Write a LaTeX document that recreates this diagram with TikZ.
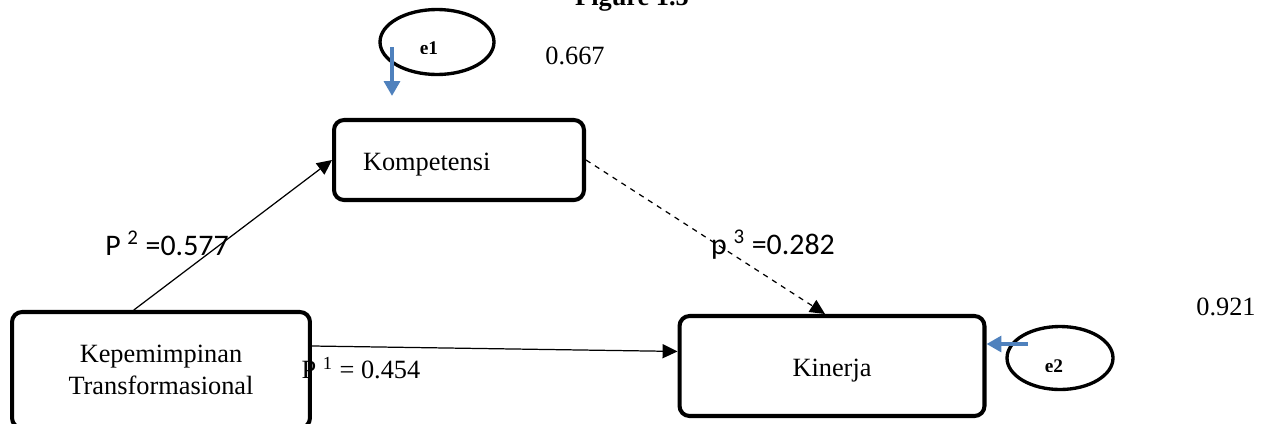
\documentclass[tikz,border=0pt]{standalone}
\usepackage{fontspec}
\setmainfont{Liberation Serif}
\newfontfamily\calibri{Carlito}
\usetikzlibrary{shapes,calc,positioning,arrows.meta}
\definecolor{errblue}{RGB}{79,129,189}

\begin{document}
\begin{tikzpicture}[x=0.02cm, y=-0.02cm,
  var/.style={draw, line width=2.3pt, rounded corners=0.2cm, align=center,
    font=\fontsize{15}{18}\selectfont},
  err/.style={draw, ellipse, line width=1.9pt, inner sep=0pt},
  link/.style={-{Triangle[length=8.5pt,width=8pt]}, line width=0.7pt},
  errlink/.style={errblue, line width=2.8pt, -{Triangle[length=8.5pt,width=9pt]}},
  coef/.style={font=\fontsize{15}{18}\selectfont},
  sanscoef/.style={font=\calibri\fontsize{17}{20}\selectfont},
  errlabel/.style={font=\bfseries\fontsize{11}{13}\selectfont, anchor=base}]
    \useasboundingbox (0,0) rectangle (1266,423);
    \clip (0,0) rectangle (1266,423);
    \node (title) [anchor=base, font=\bfseries\fontsize{15}{18}\selectfont] at (632,5) {Figure 1.5};
    \node (Kompetensi) [var, minimum width=5cm, minimum height=1.6cm, text width=3.84cm,
      inner xsep=0.58cm, align=left] at (459,160) {\raisebox{-0.1cm}[\height][\depth]{Kompetensi}};
    \node (Lead) [var, minimum width=5.96cm, minimum height=2.32cm] at (161,370)
      {Kepemimpinan\\Transformasional};
    \node (Kinerja) [var, minimum width=6.1cm, minimum height=2cm] at (832,366)
      {\raisebox{-0.1cm}[\height][\depth]{Kinerja}};
    \node (e1) [err, minimum width=2.28cm, minimum height=1.3cm] at (437,42) {};
    \node (e2) [err, minimum width=2.12cm, minimum height=1.26cm] at (1060,358) {};
    \begin{scope}
      \clip (380,10) rectangle (494,53);
      \node (e1label) [errlabel] at (429,54) {e1};
    \end{scope}
    \begin{scope}
      \clip (1007,327) rectangle (1113,371);
      \node (e2label) [errlabel] at (1054,372) {e2};
    \end{scope}
    \coordinate (e1src) at (392,47);
    \coordinate (e1dst) at (392,96);
    \coordinate (e2src) at (1028,344);
    % paths between the variables
    \draw[link] ($(Lead.north west)!0.41!(Lead.north east)$) to (Kompetensi.west);
    \draw[link] ($(Lead.north east)!0.3!(Lead.south east)$) to ($(Kinerja.north west)!0.36!(Kinerja.south west)$);
    \draw[link, dashed] (Kompetensi.east) to ($(Kinerja.north)+(-7,0)$);
    \draw[errlink] (e1src) -- (e1dst);
    \draw[errlink] (e2src) -- (e2src -| Kinerja.east);
    \node (P2) [sanscoef] at (167,243) {P \textsuperscript{2} =0.577};
    \node (P3) [sanscoef] at (773,245) {p \textsuperscript{3} =0.282};
    \node (P1) [coef] at (361,368) {P \textsuperscript{1} = 0.454};
    \node (R1) [coef] at (575,56) {0.667};
    \node (R2) [coef] at (1226,307) {0.921};
  \end{tikzpicture}
\end{document}
